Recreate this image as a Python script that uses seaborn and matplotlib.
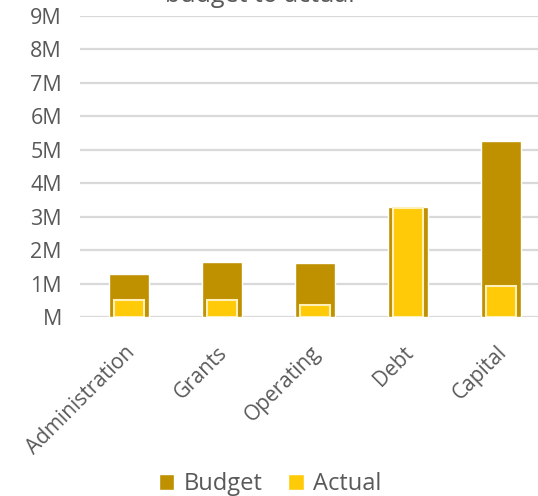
import matplotlib
matplotlib.use("Agg")
import matplotlib.pyplot as plt
import matplotlib.transforms as mtransforms
import seaborn as sns
import pandas as pd
from matplotlib.patches import Patch

categories = ["Administration", "Grants", "Operating", "Debt", "Capital"]
budget = [1.29e6, 1.65e6, 1.61e6, 3.28e6, 5.27e6]
actual = [0.51e6, 0.51e6, 0.35e6, 3.25e6, 0.92e6]
ytick_vals = [0, 1e6, 2e6, 3e6, 4e6, 5e6, 6e6, 7e6, 8e6, 9e6]
ytick_labels = ["M", "1M", "2M", "3M", "4M", "5M", "6M", "7M", "8M", "9M"]
title = "budget to actual"

BUDGET_C = "#BF9000"
ACTUAL_C = "#FFCA08"
TEXT_C = "#595959"
GRID_C = "#D9D9D9"

sns.set_theme(style="white")
plt.rcParams["font.family"] = ["Open Sans", "DejaVu Sans"]

df = pd.DataFrame({"cat": categories, "budget": budget, "actual": actual})

W, H = 538, 496
fig = plt.figure(figsize=(W / 100, H / 100), dpi=100)
ax = fig.add_axes([80 / W, (H - 317) / H, 458 / W, (317 - 16) / H])

sns.barplot(data=df, x="cat", y="budget", color=BUDGET_C, width=0.44,
            saturation=1, ax=ax, zorder=2)
sns.barplot(data=df, x="cat", y="actual", color=ACTUAL_C, width=0.32,
            saturation=1, ax=ax, edgecolor="#FFEFB8", linewidth=1.5, zorder=3)

ax.set_xlim(-0.527, 4.398)
ax.set_ylim(0, 9e6)
ax.set_yticks(ytick_vals)
ax.set_yticklabels(ytick_labels)
ax.yaxis.grid(True, color=GRID_C, linewidth=1.6, zorder=0)
ax.set_axisbelow(True)
for s in ax.spines.values():
    s.set_visible(False)
ax.set_xlabel("")
ax.set_ylabel("")
ax.tick_params(axis="y", length=0, pad=13, labelsize=15.5, labelcolor=TEXT_C)
ax.tick_params(axis="x", length=0, pad=18, labelsize=15, labelcolor=TEXT_C)
shift = mtransforms.ScaledTranslation(-5 / 100, 0, fig.dpi_scale_trans)
for lbl in ax.get_xticklabels():
    lbl.set_rotation(45)
    lbl.set_ha("right")
    lbl.set_va("top")
    lbl.set_rotation_mode("anchor")
    lbl.set_transform(lbl.get_transform() + shift)

fig.text(260 / W, 1 - 2 / H, title, ha="center", va="baseline",
         fontsize=18, color=TEXT_C)

handles = [Patch(facecolor=BUDGET_C, label="Budget"),
           Patch(facecolor=ACTUAL_C, label="Actual")]
fig.legend(handles=handles, loc="center", bbox_to_anchor=(270 / W, 1 - 484 / H),
           ncol=2, frameon=False, fontsize=17, handlelength=0.65,
           handleheight=0.65, handletextpad=0.4, columnspacing=1.1,
           labelcolor=TEXT_C)

fig.savefig("out.png", dpi=100)
